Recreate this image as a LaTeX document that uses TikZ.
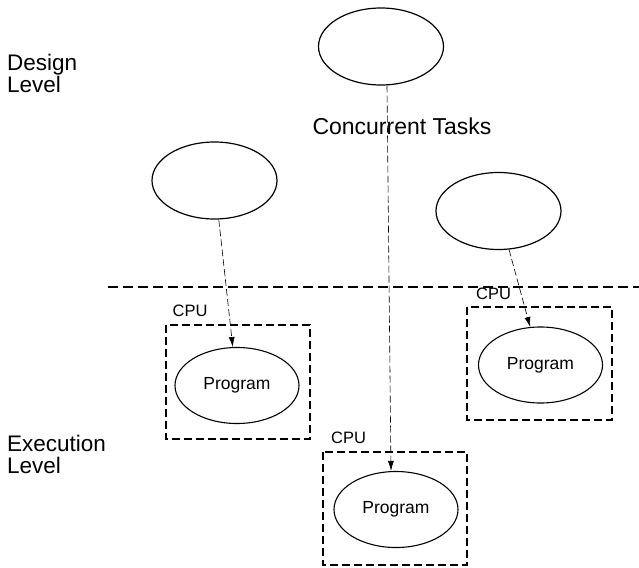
\documentclass[tikz,border=0pt]{standalone}
\usepackage{fontspec}
\setmainfont{Liberation Sans}
\usetikzlibrary{arrows.meta,shapes.geometric}
\begin{document}
\begin{tikzpicture}[x=1pt,y=-1pt,
  task/.style={draw,line width=1.2pt,ellipse,minimum width=125pt,minimum height=77pt,inner sep=0pt},
  prog/.style={draw,line width=1.1pt,ellipse,minimum width=124pt,minimum height=76pt,inner sep=0pt,font=\fontsize{17.5}{20}\selectfont},
  cpubox/.style={draw,line width=1.3pt,dash pattern=on 8pt off 4pt},
  conn/.style={line width=0.6pt,dash pattern=on 7pt off 3pt,-{Latex[length=10pt,width=6pt]}},
  lbl/.style={font=\fontsize{22.5}{22}\selectfont,align=left,anchor=base west,inner sep=0pt},
  cpulbl/.style={font=\fontsize{16.5}{18}\selectfont,anchor=base west,inner sep=0pt}]
\useasboundingbox (0,0) rectangle (639,567);
\fill[white] (0,0) rectangle (639,567);
% levels
\node[lbl] (design) at (7,93) {Design\\Level};
\node[lbl] (exec) at (7,473) {Execution\\Level};
\node[font=\fontsize{23}{26}\selectfont,inner sep=0pt,anchor=base] (ct) at (402,135) {Concurrent Tasks};
% separator
\coordinate (sepL) at (108,287);
\coordinate (sepR) at (639,287);
\draw[line width=1.3pt,dash pattern=on 10pt off 5pt] (sepL) -- (sepR);
% tasks
\node[task] (t1) at (214.5,180.5) {};
\node[task] (t2) at (381,46.5) {};
\node[task] (t3) at (498.5,211) {};
% CPU boxes
\draw[cpubox] (166,325) rectangle (310,439);
\node[cpulbl] (c1) at (172.5,316) {CPU};
\draw[cpubox] (467,307) rectangle (612,420);
\node[cpulbl] (c3) at (476,299) {CPU};
\draw[cpubox] (323,452) rectangle (467,565);
\node[cpulbl] (c2) at (331,443) {CPU};
% programs
\node[prog] (p1) at (237,385.5) {Program};
\node[prog] (p3) at (540.5,365) {Program};
\node[prog] (p2) at (396,509.5) {Program};
% connectors
\draw[conn] (t1) -- (p1);
\draw[conn] ([xshift=6pt]t2.south) -- ([xshift=-5pt]p2.north);
\draw[conn] (t3) -- (p3);
\end{tikzpicture}
\end{document}
